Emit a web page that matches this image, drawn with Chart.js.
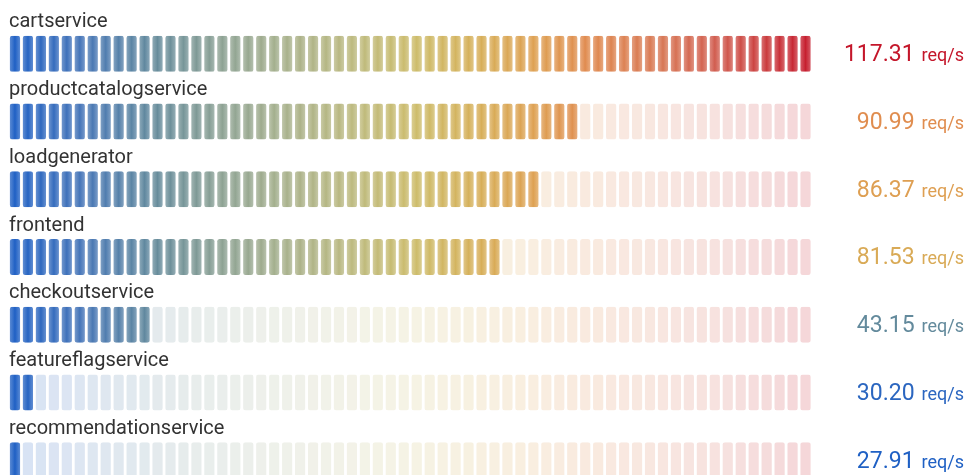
<!DOCTYPE html>
<html>
<head>
<meta charset="utf-8">
<script src="https://cdn.jsdelivr.net/npm/chart.js@4.4.1/dist/chart.umd.min.js"></script>
<style>
  html, body { margin: 0; padding: 0; background: #fff; overflow: hidden; }
  #wrap { position: absolute; left: 0; top: 0; width: 969px; height: 494px; }
</style>
</head>
<body>
<div id="wrap"><canvas id="chart"></canvas></div>
<script>
// request rates per service
const services = ['cartservice', 'productcatalogservice', 'loadgenerator', 'frontend',
                  'checkoutservice', 'featureflagservice', 'recommendationservice'];
const rates = [117.31, 90.99, 86.37, 81.53, 43.15, 30.20, 27.91];
const unit = 'req/s';
const cellCount = 62;

const minRate = Math.min(...rates);
const maxRate = Math.max(...rates);
const step = (maxRate - minRate) / cellCount;

// blue -> yellow -> red scheme, by position in the range
const stops = [
  [0.00, '#1f60c4'], [0.08, '#4474b8'], [0.17, '#638a9c'], [0.25, '#8aa094'],
  [0.33, '#a6b08c'], [0.42, '#bcb97e'], [0.50, '#cdbc6a'], [0.58, '#d7ae58'],
  [0.65, '#dea052'], [0.71, '#e08b4f'], [0.80, '#d87855'], [0.88, '#d05a4e'],
  [1.00, '#c4162a']
];
function hex(h) { return [1, 3, 5].map(i => parseInt(h.substr(i, 2), 16)); }
function colorAt(t, a) {
  t = Math.max(0, Math.min(1, t));
  let k = 0;
  while (k < stops.length - 2 && t > stops[k + 1][0]) k++;
  const [t0, c0] = stops[k], [t1, c1] = stops[k + 1];
  const f = (t - t0) / (t1 - t0);
  const p = hex(c0), q = hex(c1);
  const rgb = p.map((v, i) => Math.round(v + (q[i] - v) * f));
  return 'rgba(' + rgb.join(',') + ',' + (a === undefined ? 1 : a) + ')';
}

function cellColor(ctx) {
  const i = ctx.datasetIndex, row = ctx.dataIndex;
  const start = minRate + i * step;
  const t = i / cellCount;
  if (rates[row] < start) return colorAt(t, 0.18);
  const chart = ctx.chart;
  if (!chart.chartArea || !chart.scales.x) return colorAt(t);
  const x0 = chart.scales.x.getPixelForValue(start) + 1.5;
  const x1 = chart.scales.x.getPixelForValue(start + step) - 1.5;
  const g = chart.ctx.createLinearGradient(x0, 0, x1, 0);
  g.addColorStop(0, colorAt(t, 0.74));
  g.addColorStop(0.5, colorAt(t, 1));
  g.addColorStop(1, colorAt(t, 0.74));
  return g;
}

const datasets = [];
for (let i = 0; i < cellCount; i++) {
  datasets.push({
    data: services.map(() => [minRate + i * step, minRate + (i + 1) * step]),
    backgroundColor: cellColor,
    borderColor: '#ffffff',
    borderWidth: { left: 1.4, right: 1.4, top: 0, bottom: 0 },
    borderSkipped: false,
    borderRadius: { topLeft: 3.6, topRight: 3.6, bottomLeft: 3.6, bottomRight: 3.6 },
    inflateAmount: 0,
    grouped: false,
    barThickness: 36
  });
}

const textPlugin = {
  id: 'gaugeText',
  afterDatasetsDraw(chart) {
    const c = chart.ctx;
    const y = chart.scales.y;
    c.save();
    services.forEach((name, i) => {
      const cy = y.getPixelForValue(i);
      c.textBaseline = 'alphabetic';
      c.textAlign = 'left';
      c.fillStyle = '#333333';
      c.font = '20px Roboto';
      c.fillText(name, 9, cy - 26.5);

      const col = colorAt((rates[i] - minRate) / (maxRate - minRate));
      c.fillStyle = col;
      c.textAlign = 'right';
      c.font = '18px Roboto';
      c.fillText(unit, 964, cy + 7.4);
      const uw = c.measureText(unit).width;
      c.font = '23px Roboto';
      c.fillText(rates[i].toFixed(2), 964 - uw - 7, cy + 7.4);
    });
    c.restore();
  }
};

new Chart(document.getElementById('chart'), {
  type: 'bar',
  data: { labels: services, datasets: datasets },
  options: {
    indexAxis: 'y',
    responsive: true,
    maintainAspectRatio: false,
    animation: false,
    layout: { padding: { top: 20, left: 8.5, right: 157, bottom: 0 } },
    scales: {
      x: { type: 'linear', min: minRate, max: minRate + cellCount * step, display: false },
      y: { type: 'category', display: false, grid: { display: false } }
    },
    plugins: { legend: { display: false }, tooltip: { enabled: false } }
  },
  plugins: [textPlugin]
});
</script>
</body>
</html>
